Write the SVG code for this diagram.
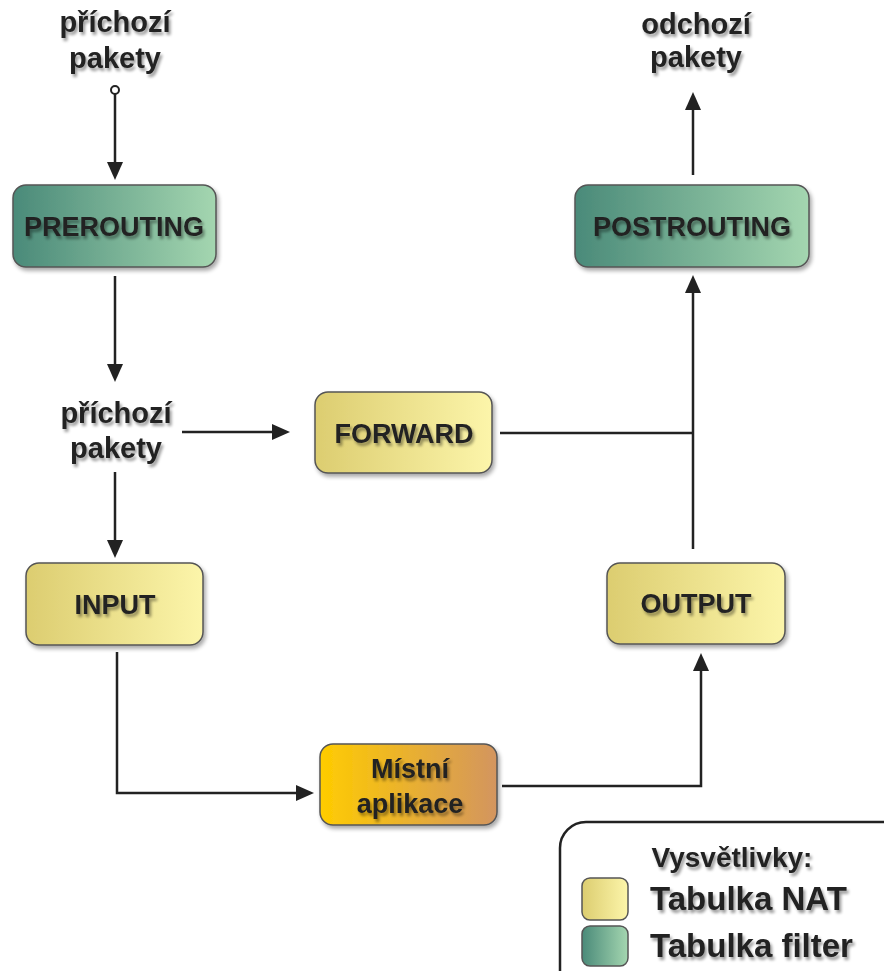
<svg xmlns="http://www.w3.org/2000/svg" width="884" height="971" viewBox="0 0 884 971">
  <defs>
    <linearGradient id="gFilter" x1="0" y1="0" x2="1" y2="0">
      <stop offset="0" stop-color="#4a8a79"/>
      <stop offset="1" stop-color="#a4d6b0"/>
    </linearGradient>
    <linearGradient id="gNat" x1="0" y1="0" x2="1" y2="0">
      <stop offset="0" stop-color="#dccd70"/>
      <stop offset="1" stop-color="#fcf5aa"/>
    </linearGradient>
    <linearGradient id="gApp" x1="0" y1="0" x2="1" y2="0">
      <stop offset="0" stop-color="#ffcc00"/>
      <stop offset="1" stop-color="#d3955f"/>
    </linearGradient>
    <filter id="shadow" x="-20%" y="-20%" width="140%" height="150%">
      <feGaussianBlur in="SourceAlpha" stdDeviation="2"/>
      <feOffset dx="2" dy="3" result="b"/>
      <feComponentTransfer><feFuncA type="linear" slope="0.35"/></feComponentTransfer>
      <feMerge><feMergeNode/><feMergeNode in="SourceGraphic"/></feMerge>
    </filter>
    <filter id="tshadow" x="-20%" y="-30%" width="140%" height="170%">
      <feGaussianBlur in="SourceAlpha" stdDeviation="1.8"/>
      <feOffset dx="1.5" dy="2.5" result="b"/>
      <feComponentTransfer><feFuncA type="linear" slope="0.4"/></feComponentTransfer>
      <feMerge><feMergeNode/><feMergeNode in="SourceGraphic"/></feMerge>
    </filter>
  </defs>
  <style>
    .box { stroke: #555; stroke-width: 1.5; filter: url(#shadow); }
    .lbl { font-family: "Liberation Sans", Arial, sans-serif; font-weight: bold; fill: #222; text-anchor: middle; filter: url(#tshadow); }
    .node { font-size: 27px; }
    .free { font-size: 29px; }
    .conn { fill: none; stroke: #222; stroke-width: 2.5; }
    .head { fill: #222; }
  </style>

  <rect width="884" height="971" fill="#ffffff"/>

  <!-- free-standing packet labels -->
  <g id="label-in-top">
    <text class="lbl free" x="115" y="32">příchozí</text>
    <text class="lbl free" x="115" y="68">pakety</text>
  </g>
  <g id="label-out-top">
    <text class="lbl free" x="696" y="34">odchozí</text>
    <text class="lbl free" x="696" y="67">pakety</text>
  </g>
  <g id="label-in-mid">
    <text class="lbl free" x="116" y="423">příchozí</text>
    <text class="lbl free" x="116" y="458">pakety</text>
  </g>

  <!-- connectors -->
  <g id="connectors">
    <circle cx="115" cy="90" r="4" fill="#fff" stroke="#222" stroke-width="2"/>
    <path class="conn" d="M115,94 V166"/>
    <path class="head" d="M107,162 L123,162 L115,180 z"/>

    <path class="conn" d="M115,276 V368"/>
    <path class="head" d="M107,364 L123,364 L115,382 z"/>

    <path class="conn" d="M182,432 H276"/>
    <path class="head" d="M272,424 L272,440 L290,432 z"/>

    <path class="conn" d="M115,472 V544"/>
    <path class="head" d="M107,540 L123,540 L115,558 z"/>

    <path class="conn" d="M117,652 V793 H300"/>
    <path class="head" d="M296,785 L296,801 L314,793 z"/>

    <path class="conn" d="M502,786 H701 V668"/>
    <path class="head" d="M693,671 L709,671 L701,653 z"/>

    <path class="conn" d="M693,549 V290"/>
    <path class="head" d="M685,293 L701,293 L693,275 z"/>

    <path class="conn" d="M500,433 H693"/>

    <path class="conn" d="M693,175 V106"/>
    <path class="head" d="M685,110 L701,110 L693,92 z"/>
  </g>

  <!-- chains -->
  <g id="prerouting">
    <rect class="box" x="13" y="185" width="203" height="82" rx="13" fill="url(#gFilter)"/>
    <text class="lbl node" x="114" y="236">PREROUTING</text>
  </g>
  <g id="postrouting">
    <rect class="box" x="575" y="185" width="234" height="82" rx="13" fill="url(#gFilter)"/>
    <text class="lbl node" x="692" y="236">POSTROUTING</text>
  </g>
  <g id="forward">
    <rect class="box" x="315" y="392" width="177" height="81" rx="13" fill="url(#gNat)"/>
    <text class="lbl node" x="404" y="443">FORWARD</text>
  </g>
  <g id="input">
    <rect class="box" x="26" y="563" width="177" height="82" rx="13" fill="url(#gNat)"/>
    <text class="lbl node" x="115" y="614">INPUT</text>
  </g>
  <g id="output">
    <rect class="box" x="607" y="563" width="178" height="81" rx="13" fill="url(#gNat)"/>
    <text class="lbl node" x="696" y="613">OUTPUT</text>
  </g>
  <g id="local-app">
    <rect class="box" x="320" y="744" width="177" height="81" rx="13" fill="url(#gApp)"/>
    <text class="lbl node" x="410" y="778">Místní</text>
    <text class="lbl node" x="410" y="813">aplikace</text>
  </g>

  <!-- legend -->
  <g id="legend">
    <rect x="560" y="822" width="360" height="200" rx="26" fill="#fff" stroke="#222" stroke-width="2.5"/>
    <text class="lbl" x="732" y="867" style="font-size:28px">Vysvětlivky:</text>
    <rect x="582" y="878" width="46" height="42" rx="8" fill="url(#gNat)" stroke="#555" stroke-width="1.5"/>
    <text class="lbl" x="650" y="910" style="font-size:33px;text-anchor:start">Tabulka NAT</text>
    <rect x="582" y="926" width="46" height="40" rx="8" fill="url(#gFilter)" stroke="#555" stroke-width="1.5"/>
    <text class="lbl" x="650" y="957" style="font-size:33px;text-anchor:start">Tabulka filter</text>
  </g>
</svg>
